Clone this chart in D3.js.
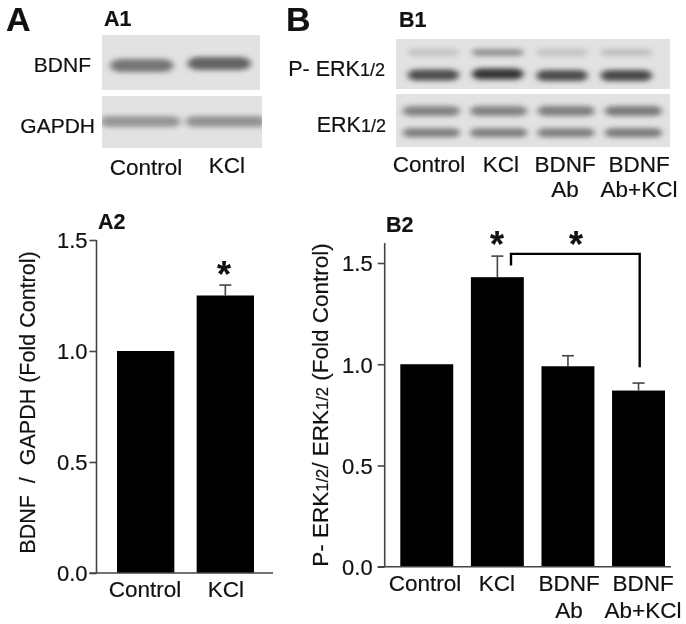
<!DOCTYPE html>
<html>
<head>
<meta charset="utf-8">
<script src="https://cdn.jsdelivr.net/npm/d3@7"></script>
<style>
  html, body { margin: 0; padding: 0; background: #fff; }
  svg { filter: blur(0.4px); }
  text { font-family: "Liberation Sans", Arial, sans-serif; fill: #111; stroke: #111; stroke-width: 0.2px; white-space: pre; }
</style>
</head>
<body>
<div id="vis"></div>
<script>
// values
const a2Categories = ["Control", "KCl"];
const a2Values = [1.0, 1.25];
const a2ErrorTops = [null, 1.297];

const b2Categories = ["Control", "KCl", "BDNF Ab", "BDNF Ab+KCl"];
const b2Values = [1.0, 1.43, 0.99, 0.87];
const b2ErrorTops = [null, 1.534, 1.042, 0.907];

const a2Ticks = [0, 0.5, 1, 1.5];
const b2Ticks = [0, 0.5, 1, 1.5];

// band darkness per lane, 0 = background, 1 = black
const bdnfBands = [0.48, 0.56];
const gapdhBands = [0.34, 0.35];
const perkUpperBands = [0.14, 0.36, 0.14, 0.16];
const perkLowerBands = [0.66, 0.76, 0.66, 0.68];
const erkUpperBands = [0.42, 0.42, 0.44, 0.46];
const erkLowerBands = [0.44, 0.44, 0.44, 0.46];

const width = 686;
const height = 624;

const svg = d3.select("#vis")
  .append("svg")
  .attr("width", width)
  .attr("height", height)
  .attr("viewBox", [0, 0, width, height])
  .style("display", "block");

const defs = svg.append("defs");
defs.append("filter").attr("id", "blur4")
  .attr("x", "-30%").attr("y", "-100%").attr("width", "160%").attr("height", "300%")
  .append("feGaussianBlur").attr("stdDeviation", "3 2.4");

function label(x, y, str, size, weight, anchor) {
  return svg.append("text")
    .attr("x", x).attr("y", y)
    .attr("font-size", size)
    .attr("font-weight", weight || "normal")
    .attr("text-anchor", anchor || "middle")
    .text(str);
}

// blot panel: grey rect + rows of blurred bands
function blot(box, lanes, rows) {
  let id = "c" + Math.round(box.x) + "_" + Math.round(box.y);
  defs.append("clipPath").attr("id", id)
    .append("rect").attr("x", box.x).attr("y", box.y).attr("width", box.w).attr("height", box.h);

  const g = svg.append("g").attr("clip-path", "url(#" + id + ")");
  g.append("rect")
    .attr("x", box.x).attr("y", box.y)
    .attr("width", box.w).attr("height", box.h)
    .attr("fill", "#e2e2e2");

  const x = d3.scaleBand().domain(d3.range(lanes)).range([box.x + box.padL, box.x + box.w - box.padR]).paddingInner(box.inner);
  const shade = d3.scaleLinear().domain([0, 1]).range(["#e2e2e2", "#000"]);

  rows.forEach(row => {
    g.append("g")
      .attr("filter", "url(#blur4)")
      .selectAll("rect")
      .data(row.values)
      .join("rect")
      .attr("x", (d, i) => x(i))
      .attr("y", (d, i) => row.y + (row.tilt ? row.tilt[i] : 0) - row.ry)
      .attr("width", x.bandwidth())
      .attr("height", row.ry * 2)
      .attr("rx", row.ry * 1.6)
      .attr("ry", row.ry)
      .attr("fill", d => shade(d));
  });
}

blot({ x: 102, y: 35, w: 158, h: 55, padL: 8, padR: 9, inner: 0.18 }, 2, [
  { values: bdnfBands, y: 64.5, ry: 6.5, tilt: [1, -1] }
]);
blot({ x: 102, y: 96, w: 160, h: 52, padL: -2, padR: -4, inner: 0.06 }, 2, [
  { values: gapdhBands, y: 121.5, ry: 5.5 }
]);
blot({ x: 395.7, y: 39, w: 274.3, h: 50, padL: 12, padR: 18, inner: 0.2 }, 4, [
  { values: perkUpperBands, y: 52.5, ry: 3.5 },
  { values: perkLowerBands, y: 75, ry: 5.5, tilt: [0, -1, 0.5, 0.5] }
]);
blot({ x: 395.7, y: 94, w: 274.3, h: 53, padL: 7, padR: 8, inner: 0.15 }, 4, [
  { values: erkUpperBands, y: 111, ry: 5 },
  { values: erkLowerBands, y: 132.7, ry: 4.5 }
]);

// panel letters
label(6, 31, "A", 34, "bold", "start");
label(286, 31, "B", 34, "bold", "start");
label(104, 26, "A1", 21.5, "bold", "start");
label(399, 27, "B1", 21.5, "bold", "start");
label(98, 229, "A2", 21.5, "bold", "start");
label(386, 232, "B2", 21.5, "bold", "start");

// blot labels
label(91, 72, "BDNF", 21, "normal", "end");
label(95, 133, "GAPDH", 21, "normal", "end");
label(146, 175, "Control", 22.5);
label(227, 173, "KCl", 22.5);

const perk = label(385, 76, "P- ERK", 21.5, "normal", "end");
perk.append("tspan").attr("font-size", 18).text("1/2");
const erk = label(386, 132, "ERK", 21.5, "normal", "end");
erk.append("tspan").attr("font-size", 18).text("1/2");
label(429, 172, "Control", 22.5);
label(501, 172, "KCl", 22.5);
label(565, 172, "BDNF", 22.5);
label(565, 197, "Ab", 22.5);
label(639, 172, "BDNF", 22.5);
label(639, 197, "Ab+KCl", 22.5);

// bar charts
function barChart(cfg) {
  const y = d3.scaleLinear().domain([0, 1.5]).range([cfg.y0, cfg.y15]);
  const x = d3.scaleBand().domain(cfg.categories).range(cfg.xRange).paddingInner(cfg.inner);
  const bx = d => x(d) + x.bandwidth() / 2;

  svg.append("g")
    .selectAll("rect")
    .data(cfg.categories)
    .join("rect")
    .attr("x", d => x(d))
    .attr("y", (d, i) => y(cfg.values[i]))
    .attr("width", x.bandwidth())
    .attr("height", (d, i) => y(0) - y(cfg.values[i]))
    .attr("fill", "#000");

  // error bars, top only
  const err = svg.append("g").attr("stroke", "#444").attr("stroke-width", 1.6);
  cfg.categories.forEach((c, i) => {
    if (cfg.errorTops[i] == null) return;
    err.append("line").attr("x1", bx(c)).attr("x2", bx(c))
      .attr("y1", y(cfg.values[i])).attr("y2", y(cfg.errorTops[i]));
    err.append("line").attr("x1", bx(c) - 6).attr("x2", bx(c) + 6)
      .attr("y1", y(cfg.errorTops[i])).attr("y2", y(cfg.errorTops[i]));
  });

  const axis = svg.append("g")
    .attr("transform", "translate(" + cfg.axisX + ",0)")
    .call(d3.axisLeft(y).tickValues(cfg.ticks).tickFormat(d3.format(".1f")).tickSize(7).tickSizeOuter(0));
  axis.select(".domain").attr("stroke", "#444").attr("stroke-width", 1.6)
    .attr("d", "M0," + y(0) + "V" + (cfg.axisTop || y(1.5)));
  axis.selectAll(".tick line").attr("stroke", "#444").attr("stroke-width", 1.6);
  axis.selectAll(".tick text")
    .attr("x", cfg.tickLabelX)
    .attr("dy", "0.36em")
    .attr("font-size", 22)
    .attr("font-family", "Liberation Sans, Arial, sans-serif");

  svg.append("line")
    .attr("x1", cfg.axisX - 7).attr("x2", cfg.axisEnd)
    .attr("y1", y(0)).attr("y2", y(0))
    .attr("stroke", "#444").attr("stroke-width", 1.6);

  return { x, y };
}

const chartA = barChart({
  categories: a2Categories, values: a2Values, errorTops: a2ErrorTops, ticks: a2Ticks,
  y0: 573, y15: 240, xRange: [117, 254], inner: 0.28, axisX: 96.5, axisEnd: 273, tickLabelX: -9
});
const chartB = barChart({
  categories: b2Categories, values: b2Values, errorTops: b2ErrorTops, ticks: b2Ticks,
  y0: 566.7, y15: 263, xRange: [400.3, 665], inner: 0.25, axisX: 384.7, axisEnd: 671, axisTop: 243, tickLabelX: -12
});

// x labels under the bars
label(145, 597, "Control", 22.5);
label(226, 597, "KCl", 22.5);
label(425, 591, "Control", 22.5);
label(497, 591, "KCl", 22.5);
label(569, 591, "BDNF", 22.5);
label(569, 618, "Ab", 22.5);
label(643, 591, "BDNF", 22.5);
label(643, 618, "Ab+KCl", 22.5);

// y axis titles
svg.append("text")
  .attr("transform", "translate(35,402.5) rotate(-90)")
  .attr("text-anchor", "middle")
  .attr("font-size", 21.5)
  .text("BDNF  /  GAPDH (Fold Control)");

const yb = svg.append("text")
  .attr("transform", "translate(328,405) rotate(-90)")
  .attr("text-anchor", "middle")
  .attr("font-size", 22.5);
yb.append("tspan").text("P- ERK");
yb.append("tspan").attr("font-size", 16.5).text("1/2");
yb.append("tspan").text("/ ERK");
yb.append("tspan").attr("font-size", 16.5).text("1/2");
yb.append("tspan").text(" (Fold Control)");

// significance bracket KCl -> BDNF Ab+KCl
const bracketX = [511, 639.7];
const bracketY = [1.488, 1.545, 0.985];
svg.append("path")
  .attr("fill", "none")
  .attr("stroke", "#000")
  .attr("stroke-width", 2.4)
  .attr("d", d3.line()([
    [bracketX[0], chartB.y(bracketY[0])],
    [bracketX[0], chartB.y(bracketY[1])],
    [bracketX[1], chartB.y(bracketY[1])],
    [bracketX[1], chartB.y(bracketY[2])]
  ]));

// stars
label(224, 287, "*", 36, "bold");
label(497, 257, "*", 36, "bold");
label(576, 257, "*", 36, "bold");
</script>
</body>
</html>
